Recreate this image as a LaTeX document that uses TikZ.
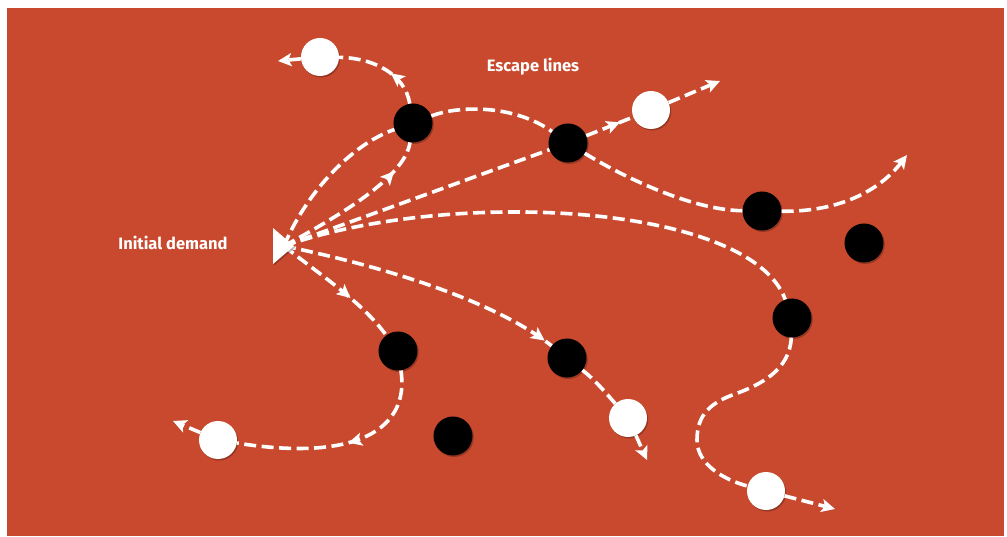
\documentclass[tikz,border=0pt]{standalone}
\usepackage{fontspec}
\setmainfont{Fira Sans}
\usetikzlibrary{arrows.meta,decorations.markings,shadows}
\definecolor{bgred}{RGB}{200,73,46}
\begin{document}
\begin{tikzpicture}[x=1pt,y=-1pt,
  >={Stealth[length=13.5pt,width=13pt,inset=3pt]},
  esc/.style={draw=white, line width=3.6pt, dash pattern=on 12pt off 5.5pt},
  midarr/.style={postaction={decorate,decoration={markings,mark=at position #1 with {\arrow{>}}}}},
  shd/.style={drop shadow={shadow xshift=1.2pt, shadow yshift=-1.5pt, opacity=0.25, fill=black}},
  wnode/.style={circle, fill=white, minimum size=38pt, inner sep=0pt, shd},
  bnode/.style={circle, fill=black, minimum size=39pt, inner sep=0pt, shd},
  lbl/.style={text=white, font=\bfseries\fontsize{16.5}{19}\selectfont}
]
\useasboundingbox (0,0) rectangle (1007,537);
\fill[white] (0,0) rectangle (1007,537);
\fill[bgred] (7,8) rectangle (1004,536);

% labels
\node[lbl] (initlbl) at (173,243) {Initial demand};
\node[lbl] (esclbl) at (533,67) {Escape lines};

% origin
\coordinate (T) at (284,246);

% circles
\node[wnode] (W1) at (320,57) {};
\node[wnode] (W2) at (651,110) {};
\node[wnode] (W3) at (218,440) {};
\node[wnode] (W4) at (628,418) {};
\node[wnode] (W5) at (766,491) {};
\node[bnode] (B1) at (413,123) {};
\node[bnode] (B2) at (568,143) {};
\node[bnode] (B3) at (762,211) {};
\node[bnode] (B4) at (864,243) {};
\node[bnode] (B5) at (398,351) {};
\node[bnode] (B6) at (567,358) {};
\node[bnode] (B7) at (792,318) {};
\node[bnode] (B8) at (453,436) {};

% free ends
\coordinate (e1) at (278,61);
\coordinate (e2) at (720,81);
\coordinate (e3) at (907,155);
\coordinate (e5) at (835,509);
\coordinate (e6) at (173,421);
\coordinate (e7) at (647,460);

% lines from the origin
\draw[esc] (T) .. controls (305,195) and (350,145) .. (B1);
\draw[esc, midarr=0.8] (T) .. controls (350,210) and (405,175) .. (B1);
\draw[esc] (T) -- (B2);
\draw[esc] (T) .. controls (450,188) and (750,203) .. (B7);
\draw[esc, midarr=0.97] (T) .. controls (400,270) and (500,305) .. (B6);
\draw[esc, midarr=0.62] (T) .. controls (320,275) and (360,300) .. (B5);

% escape lines
\draw[esc, midarr=0.4] (B1) .. controls (405,75) and (375,58) .. (W1);
\draw[esc, ->] (W1) -- (e1);
\draw[esc] (B1) .. controls (460,105) and (515,105) .. (B2);
\draw[esc, midarr=0.72] (B2) -- (W2);
\draw[esc, ->] (W2) -- (e2);
\draw[esc] (B2) .. controls (620,175) and (690,210) .. (B3);
\draw[esc, ->] (B3) .. controls (840,212) and (880,190) .. (e3);
\draw[esc] (B7) .. controls (790,370) and (760,385) .. (735,394)
  .. controls (710,403) and (697,415) .. (697,440)
  .. controls (697,465) and (725,480) .. (W5);
\draw[esc, ->] (W5) -- (e5);
\draw[esc, midarr=0.47] (B5) .. controls (410,430) and (355,462) .. (W3);
\draw[esc, ->] (W3) -- (e6);
\draw[esc] (B6) .. controls (595,380) and (605,392) .. (W4);
\draw[esc, ->] (W4) -- (e7);

% origin triangle
\fill[white, shd] (273,228) -- (294,246) -- (273,264) -- cycle;
\end{tikzpicture}
\end{document}
